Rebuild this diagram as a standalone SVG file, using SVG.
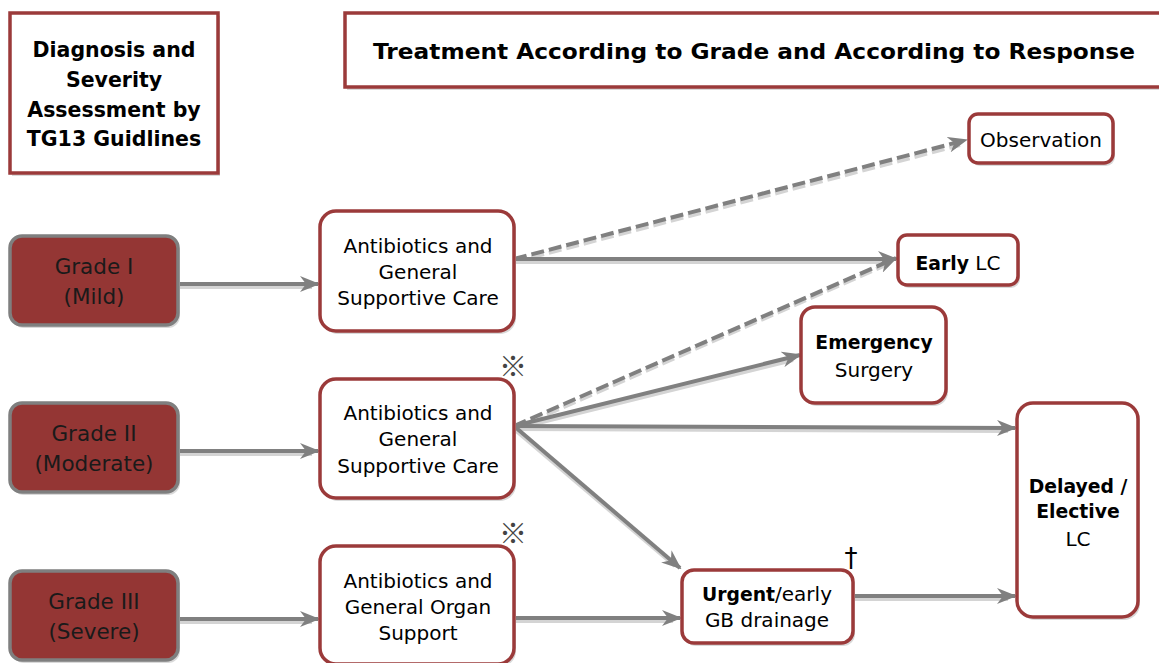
<svg xmlns="http://www.w3.org/2000/svg" width="1159" height="663" viewBox="0 0 1159 663">
<style>
text{font-family:"DejaVu Sans","Liberation Sans",Arial,sans-serif;fill:#000;text-anchor:middle}
.hdr{fill:#fff;stroke:#9b3a3a;stroke-width:3.5}
.shd{fill:#d9d9d9}
.grade{fill:#943634;stroke:#7f7f7f;stroke-width:3.5}
.box{fill:#fff;stroke:#9b3a3a;stroke-width:3.5}
.h{font-weight:bold;font-size:20.5px}
.g{font-size:21.5px;fill:#1a1a1a}
.t{font-size:20px}
.b{font-weight:bold;font-size:18.8px}
.c{stroke:#808080;stroke-width:4;fill:none}
.cs{stroke:#d4d4d4;stroke-width:4;fill:none}
.d{stroke-dasharray:13,5}
.sym{font-family:"Noto Sans CJK JP",sans-serif;font-size:28px;fill:#444}
</style>
<defs>
<marker id="ah" viewBox="0 0 20 16" refX="18" refY="8" markerWidth="20" markerHeight="16" markerUnits="userSpaceOnUse" orient="auto">
<path d="M0,0 L20,8 L0,16 L6,8 Z" fill="#808080"/>
</marker>
</defs>

<g id="diag">
<rect x="12" y="16" width="208" height="160" class="shd"/>
<rect x="10" y="13" width="208" height="160" class="hdr"/>
<text class="h" x="114" y="57">Diagnosis and</text>
<text class="h" x="114" y="87">Severity</text>
<text class="h" x="114" y="117">Assessment by</text>
<text class="h" x="114" y="146">TG13 Guidlines</text>
</g>

<g id="title">
<rect x="347" y="16" width="830" height="74" class="shd"/>
<rect x="345" y="13" width="830" height="74" class="hdr"/>
<text class="h" x="754" y="59" font-size="22" textLength="762" lengthAdjust="spacingAndGlyphs">Treatment According to Grade and According to Response</text>
</g>

<g id="connectors">
<g transform="translate(0,3)">
<line class="cs" x1="180" y1="284" x2="312" y2="284"/>
<line class="cs" x1="180" y1="451" x2="312" y2="451"/>
<line class="cs" x1="180" y1="619" x2="312" y2="619"/>
<line class="cs d" x1="514" y1="259" x2="960" y2="142"/>
<line class="cs" x1="514" y1="259" x2="890" y2="259"/>
<line class="cs d" x1="514" y1="426" x2="890" y2="260"/>
<line class="cs" x1="514" y1="426" x2="793" y2="357"/>
<line class="cs" x1="514" y1="426" x2="1008" y2="428"/>
<line class="cs" x1="514" y1="426" x2="675" y2="563"/>
<line class="cs" x1="514" y1="618" x2="673" y2="618"/>
<line class="cs" x1="853" y1="596" x2="1008" y2="596"/>
</g>
<line class="c" x1="180" y1="284" x2="318" y2="284" marker-end="url(#ah)"/>
<line class="c" x1="180" y1="451" x2="318" y2="451" marker-end="url(#ah)"/>
<line class="c" x1="180" y1="619" x2="318" y2="619" marker-end="url(#ah)"/>
<line class="c d" x1="514" y1="259" x2="966" y2="140" marker-end="url(#ah)"/>
<line class="c" x1="514" y1="259" x2="896" y2="259" marker-end="url(#ah)"/>
<line class="c d" x1="514" y1="426" x2="896" y2="258" marker-end="url(#ah)"/>
<line class="c" x1="514" y1="426" x2="800" y2="355" marker-end="url(#ah)"/>
<line class="c" x1="514" y1="426" x2="1015" y2="428" marker-end="url(#ah)"/>
<line class="c" x1="514" y1="426" x2="680" y2="568" marker-end="url(#ah)"/>
<line class="c" x1="514" y1="618" x2="680" y2="618" marker-end="url(#ah)"/>
<line class="c" x1="853" y1="596" x2="1015" y2="596" marker-end="url(#ah)"/>
</g>

<g id="grade1">
<rect x="12" y="239" width="168" height="89" rx="12" class="shd"/>
<rect x="10" y="236" width="168" height="89" rx="12" class="grade"/>
<text class="g" x="94" y="274">Grade I</text>
<text class="g" x="94" y="304">(Mild)</text>
</g>
<g id="grade2">
<rect x="12" y="406" width="168" height="89" rx="12" class="shd"/>
<rect x="10" y="403" width="168" height="89" rx="12" class="grade"/>
<text class="g" x="94" y="441">Grade II</text>
<text class="g" x="94" y="471">(Moderate)</text>
</g>
<g id="grade3">
<rect x="12" y="574" width="168" height="89" rx="12" class="shd"/>
<rect x="10" y="571" width="168" height="89" rx="12" class="grade"/>
<text class="g" x="94" y="609">Grade III</text>
<text class="g" x="94" y="639">(Severe)</text>
</g>

<g id="abx1">
<rect x="322" y="214" width="194" height="120" rx="16" class="shd"/>
<rect x="320" y="211" width="194" height="120" rx="16" class="box"/>
<text class="t" x="418" y="253">Antibiotics and</text>
<text class="t" x="418" y="279">General</text>
<text class="t" x="418" y="305">Supportive Care</text>
</g>
<g id="abx2">
<rect x="322" y="382" width="194" height="119" rx="16" class="shd"/>
<rect x="320" y="379" width="194" height="119" rx="16" class="box"/>
<text class="t" x="418" y="420">Antibiotics and</text>
<text class="t" x="418" y="446">General</text>
<text class="t" x="418" y="473">Supportive Care</text>
<text class="sym" x="513" y="377">※</text>
</g>
<g id="abx3">
<rect x="322" y="549" width="194" height="118" rx="16" class="shd"/>
<rect x="320" y="546" width="194" height="118" rx="16" class="box"/>
<text class="t" x="418" y="588">Antibiotics and</text>
<text class="t" x="418" y="614">General Organ</text>
<text class="t" x="418" y="640">Support</text>
<text class="sym" x="513" y="544">※</text>
</g>

<g id="observation">
<rect x="971" y="117" width="144" height="49" rx="9" class="shd"/>
<rect x="969" y="114" width="144" height="49" rx="9" class="box"/>
<text class="t" x="1041" y="147">Observation</text>
</g>
<g id="earlylc">
<rect x="900" y="238" width="120" height="50" rx="9" class="shd"/>
<rect x="898" y="235" width="120" height="50" rx="9" class="box"/>
<text class="t" x="958" y="270"><tspan class="b">Early</tspan> LC</text>
</g>
<g id="emergency">
<rect x="803" y="310" width="145" height="96" rx="14" class="shd"/>
<rect x="801" y="307" width="145" height="96" rx="14" class="box"/>
<text class="t b" x="874" y="349">Emergency</text>
<text class="t" x="874" y="377">Surgery</text>
</g>
<g id="delayed">
<rect x="1019" y="406" width="121" height="214" rx="16" class="shd"/>
<rect x="1017" y="403" width="121" height="214" rx="16" class="box"/>
<text class="t b" x="1078" y="493">Delayed /</text>
<text class="t b" x="1078" y="518">Elective</text>
<text class="t" x="1078" y="546">LC</text>
</g>
<g id="urgent">
<rect x="684" y="573" width="171" height="73" rx="12" class="shd"/>
<rect x="682" y="570" width="171" height="73" rx="12" class="box"/>
<text class="t" x="767" y="601"><tspan class="b">Urgent</tspan>/early</text>
<text class="t" x="767" y="627">GB drainage</text>
<text x="851" y="567" font-size="26" font-family="'Liberation Sans',sans-serif" fill="#1a2a3a">†</text>
</g>
</svg>
